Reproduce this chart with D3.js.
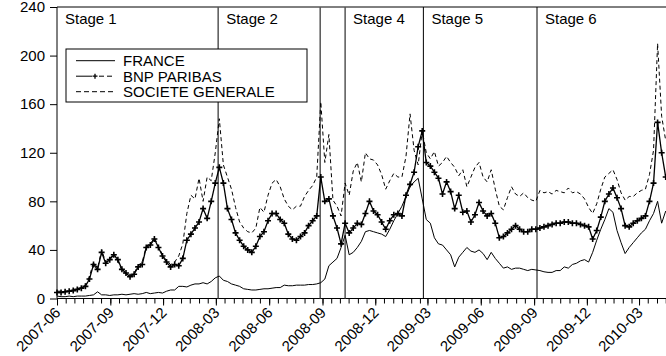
<!DOCTYPE html>
<html>
<head>
<meta charset="utf-8">
<script src="https://cdn.jsdelivr.net/npm/d3@7"></script>
<style>
  body { margin: 0; background: #fff; }
  text { font-family: "Liberation Sans", Arial, sans-serif; fill: #000; }
</style>
</head>
<body>
<script>
// weekly observations, first one on 2007-06-01
var france = [2, 1.5, 1.5, 2, 1.5, 2, 2, 2, 2.5, 3, 5.5, 3, 3, 2.5, 3, 3, 3.5, 3, 3.5, 4,
  3.5, 4, 5, 4, 4.5, 5, 4.5, 6, 7, 7, 10, 10, 9.5, 11, 12, 12, 13, 12, 14, 17,
  18.5, 15, 14, 12, 11, 10, 8, 7.5, 7, 7, 7.5, 8, 8, 8.5, 9, 9, 11, 10.5, 10.5, 11,
  11, 11, 11.5, 11.5, 12, 13, 16, 27, 30, 33, 42, 52, 36, 38, 42, 47, 55, 56, 55, 54,
  53, 51, 57, 64, 70, 76, 84, 92, 96, 99, 82, 65, 62, 50, 45, 44, 40, 36, 26, 34,
  38, 42, 39, 38, 40, 37, 32, 38, 33, 29, 25, 26, 24, 25, 25, 24, 23, 24, 23.5, 23,
  22, 21.5, 21.5, 23, 23, 26, 25, 28, 29, 31, 32, 30, 38, 48, 57, 65, 74, 71, 56, 46,
  37, 42, 46, 50, 54, 57, 64, 70, 80, 62, 72]
var bnp = [5, 5, 5.5, 6, 6.5, 7.5, 8.5, 10, 16, 28, 24, 38, 29, 32, 36, 32, 24, 21, 18, 20,
  26, 28, 42, 44, 49, 42, 35, 30, 26, 28, 27, 33, 48, 53, 58, 63, 74, 66, 80, 95,
  108, 95, 74, 65, 54, 48, 43, 40, 38, 43, 51, 55, 64, 70, 70, 65, 62, 53, 49, 48,
  51, 54, 60, 64, 68, 100, 80, 82, 68, 58, 45, 62, 54, 58, 62, 61, 70, 80, 72, 69,
  63, 57, 64, 69, 70, 68, 85, 94, 104, 125, 138, 112, 109, 104, 99, 86, 96, 88, 74, 85,
  71, 72, 63, 69, 79, 72, 68, 70, 62, 50, 51, 54, 57, 60, 57, 55, 55, 57, 57, 58,
  59, 60, 61, 62, 62, 63, 63, 62, 62, 61, 60, 59, 49, 56, 67, 80, 86, 91, 83, 74,
  60, 59, 62, 64, 66, 68, 80, 95, 145, 120, 100]
var socgen = [6, 6, 6, 6.5, 7, 8, 9, 11, 18, 30, 25, 40, 30, 33, 37, 31, 23, 20, 18, 21,
  27, 30, 43, 45, 50, 43, 36, 31, 28, 30, 35, 45, 70, 85, 82, 99, 80, 100, 97, 120,
  148, 110, 100, 90, 75, 63, 58, 55, 54, 58, 75, 71, 85, 95, 98, 92, 82, 76, 73, 76,
  76, 84, 89, 93, 100, 162, 112, 135, 81, 76, 68, 95, 85, 105, 112, 96, 120, 115, 114, 110,
  102, 90, 97, 103, 100, 100, 117, 152, 122, 110, 138, 120, 115, 121, 109, 112, 117, 112, 108, 101,
  106, 92, 100, 108, 112, 100, 96, 106, 90, 76, 73, 83, 92, 86, 84, 87, 83, 81, 80, 89,
  87, 88, 86, 89, 88, 87, 91, 87, 88, 86, 82, 75, 70, 78, 90, 100, 103, 106, 98, 87,
  81, 84, 84, 87, 89, 90, 102, 122, 210, 150, 130]

var seriesNames = ["FRANCE", "BNP PARIBAS", "SOCIETE GENERALE"]
var stageNames = ["Stage 1", "Stage 2", "", "Stage 4", "Stage 5", "Stage 6"]
var stageStarts = ["2007-06-01", "2008-03-05", "2008-08-28", "2008-10-10", "2009-02-22", "2009-09-06"]
var yTicks = [0, 40, 80, 120, 160, 200, 240]
var xTickLabels = ["2007-06", "2007-09", "2007-12", "2008-03", "2008-06", "2008-09",
  "2008-12", "2009-03", "2009-06", "2009-09", "2009-12", "2010-03"]

var width = 666
var height = 356
var plotL = 57, plotR = 666, plotT = 7, plotB = 298.5

var parseDay = d3.timeParse("%Y-%m-%d")
var parseMonth = d3.timeParse("%Y-%m")
var start = parseDay("2007-06-01")
var dates = france.map(function (v, i) { return d3.timeDay.offset(start, 7 * i) })
var end = d3.timeHour.offset(dates[dates.length - 1], 12)

var x = d3.scaleTime().domain([start, end]).range([plotL, plotR])
var y = d3.scaleLinear().domain([0, 240]).range([plotB, plotT])

var svg = d3.select("body").append("svg")
  .attr("width", width)
  .attr("height", height)

svg.append("rect").attr("width", width).attr("height", height).attr("fill", "#fff")

// axes
var yAxis = svg.append("g")
  .attr("transform", "translate(" + plotL + ",0)")
  .call(d3.axisLeft(y).tickValues(yTicks).tickSize(7).tickPadding(5))
yAxis.select(".domain").remove()
yAxis.selectAll("text").style("font-size", "15px")

var halfMonths = []
d3.timeMonth.range(start, end).forEach(function (m) {
  halfMonths.push(m, d3.timeDay.offset(m, 15))
})
svg.append("g")
  .attr("transform", "translate(0," + plotB + ")")
  .call(d3.axisBottom(x).tickValues(halfMonths.filter(function (d) { return d <= end }))
    .tickSize(5).tickFormat(""))
  .select(".domain").remove()

var xAxis = svg.append("g")
  .attr("transform", "translate(0," + plotB + ")")
  .call(d3.axisBottom(x).tickValues(xTickLabels.map(parseMonth))
    .tickSize(7).tickFormat(d3.timeFormat("%Y-%m")))
xAxis.select(".domain").remove()
xAxis.selectAll("text")
  .style("font-size", "15px")
  .attr("text-anchor", "end")
  .attr("dy", null)
  .attr("y", 0)
  .attr("transform", "translate(4,15) rotate(-45)")

svg.selectAll(".tick line").attr("stroke", "#000")
svg.selectAll(".tick text").attr("fill", "#000")

// frame
svg.append("path")
  .attr("d", "M" + plotR + "," + plotT + "H" + plotL + "V" + plotB + "H" + plotR)
  .attr("fill", "none")
  .attr("stroke", "#000")

// stage boundaries
var stages = stageNames.map(function (n, i) { return { name: n, date: parseDay(stageStarts[i]), i: i } })
svg.selectAll(".stage-line")
  .data(stages.slice(1))
  .enter().append("line")
  .attr("class", "stage-line")
  .attr("x1", function (d) { return x(d.date) })
  .attr("x2", function (d) { return x(d.date) })
  .attr("y1", plotT)
  .attr("y2", plotB)
  .attr("stroke", function (d) { return d.i < 4 ? "#555" : "#000" })
  .attr("stroke-width", function (d) { return d.i < 4 ? 1.5 : 1 })

svg.selectAll(".stage-label")
  .data(stages)
  .enter().append("text")
  .attr("class", "stage-label")
  .attr("x", function (d) { return x(d.date) + 8 })
  .attr("y", 24)
  .style("font-size", "15px")
  .text(function (d) { return d.name })

// series
function series(values) {
  return values.map(function (v, i) { return { date: dates[i], v: v } })
}
var line = d3.line()
  .x(function (d) { return x(d.date) })
  .y(function (d) { return y(d.v) })

svg.append("path")
  .datum(series(socgen))
  .attr("d", line)
  .attr("fill", "none")
  .attr("stroke", "#000")
  .attr("stroke-dasharray", "4,3")

svg.append("path")
  .datum(series(bnp))
  .attr("d", line)
  .attr("fill", "none")
  .attr("stroke", "#000")
  .attr("stroke-width", 1.3)

var cross = "M-3,0H3M0,-3V3"
svg.selectAll(".bnp-mark")
  .data(series(bnp))
  .enter().append("path")
  .attr("class", "bnp-mark")
  .attr("transform", function (d) { return "translate(" + x(d.date) + "," + y(d.v) + ")" })
  .attr("d", cross)
  .attr("stroke", "#000")
  .attr("stroke-width", 1.6)

svg.append("path")
  .datum(series(france))
  .attr("d", line)
  .attr("fill", "none")
  .attr("stroke", "#000")

// legend
var legend = svg.append("g").attr("transform", "translate(66,49)")
legend.append("rect")
  .attr("width", 241).attr("height", 53)
  .attr("fill", "#fff").attr("stroke", "#000")

var rows = legend.selectAll(".row")
  .data(seriesNames)
  .enter().append("g")
  .attr("transform", function (d, i) { return "translate(0," + (11.7 + i * 15.5) + ")" })

rows.append("text")
  .attr("x", 57)
  .attr("y", 5.3)
  .style("font-size", "15px")
  .text(function (d) { return d })

rows.filter(function (d, i) { return i === 0 }).append("line")
  .attr("x1", 10).attr("x2", 49).attr("stroke", "#000")
rows.filter(function (d, i) { return i === 1 }).each(function () {
  var g = d3.select(this)
  g.append("line").attr("x1", 10).attr("x2", 26).attr("stroke", "#000")
  g.append("path").attr("transform", "translate(29,0)").attr("d", "M-2.5,0H2.5M0,-2.5V2.5")
    .attr("stroke", "#000").attr("stroke-width", 1.3)
  g.append("line").attr("x1", 33).attr("x2", 49).attr("stroke", "#000")
    .attr("stroke-dasharray", "5,3")
})
rows.filter(function (d, i) { return i === 2 }).append("line")
  .attr("x1", 10).attr("x2", 49).attr("stroke", "#000")
  .attr("stroke-dasharray", "5,3")
</script>
</body>
</html>
